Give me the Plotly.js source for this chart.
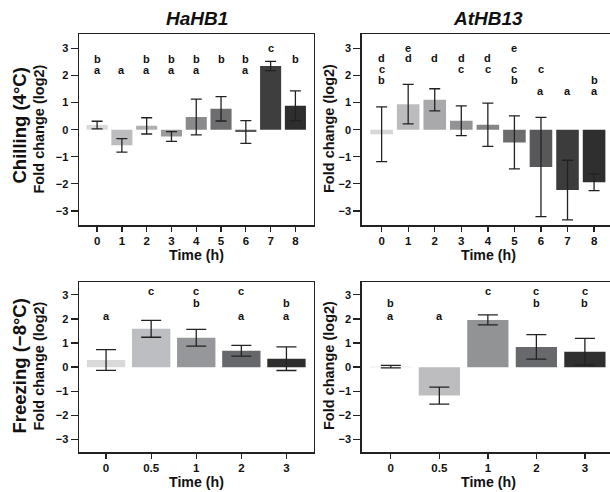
<!DOCTYPE html>
<html><head><meta charset="utf-8">
<script src="https://cdn.plot.ly/plotly-3.0.1.min.js"></script>
<style>html,body{margin:0;padding:0;overflow:hidden;background:#fff}</style>
</head><body><div id="chart" style="width:615px;height:492px"></div>
<script>
// ---- data ----
const chillTimes = ["0","1","2","3","4","5","6","7","8"];
const freezeTimes = ["0","0.5","1","2","3"];
const hahb1ChillMean = [0.17,-0.58,0.14,-0.25,0.47,0.77,-0.09,2.35,0.88];
const hahb1ChillErr  = [0.14,0.25,0.30,0.18,0.66,0.45,0.42,0.17,0.55];
const athb13ChillMean = [-0.17,0.94,1.10,0.33,0.18,-0.47,-1.38,-2.23,-1.94];
const athb13ChillErr  = [1.01,0.73,0.41,0.55,0.80,0.98,1.83,1.10,0.31];
const hahb1FreezeMean = [0.30,1.59,1.22,0.68,0.35];
const hahb1FreezeErr  = [0.43,0.35,0.35,0.22,0.49];
const athb13FreezeMean = [0.02,-1.18,1.96,0.84,0.64];
const athb13FreezeErr  = [0.05,0.35,0.21,0.51,0.55];
const hahb1ChillLetters  = ["ab","a","ab","ab","ab","b","ab","c","b"];
const athb13ChillLetters = ["bcd","de","d","cd","cd","bce","ac","a","ab"];
const hahb1FreezeLetters  = ["a","c","bc","ac","ab"];
const athb13FreezeLetters = ["ab","a","c","bc","bc"];

// ---- styles ----
const chillColorsL = ["#d9d9d9","#bdbdc0","#b0b0b2","#9a9a9c","#8a8a8c","#6e6e70","#59595b","#3e3e3e","#2e2e2e"];
const chillColorsR = ["#d6d6d6","#bcbcbe","#a9a9ab","#939395","#858587","#6c6c6e","#58585a","#3c3c3c","#2f2f2f"];
const freezeColorsL = ["#d9d9d9","#bdbec1","#96979a","#67686b","#2e2e2e"];
const freezeColorsR = ["#d6d6d6","#bdbdc0","#929395","#68696c","#2f2f2f"];
const levelsTL = {a:2.2,b:2.62,c:3.0};
const levelsTR = {a:1.41,b:1.83,c:2.23,d:2.63,e:3.02};
const levelsB  = {a:2.13,b:2.66,c:3.14};

const W = 615, H = 492;
const FONT = "Liberation Sans, Arial, Helvetica, sans-serif";
const INK = "#222";

function barTrace(x, y, err, colors, xa, ya, capw){
  return {type:'bar', x:x, y:y, xaxis:xa, yaxis:ya, width:0.85,
    marker:{color:colors, line:{width:0}},
    error_y:{type:'data', array:err, visible:true, color:INK, thickness:1.3, width:capw},
    hoverinfo:'skip', showlegend:false};
}
const data = [
  barTrace(chillTimes, hahb1ChillMean, hahb1ChillErr, chillColorsL, 'x','y',5.5),
  barTrace(chillTimes, athb13ChillMean, athb13ChillErr, chillColorsR, 'x2','y2',5.5),
  barTrace(freezeTimes, hahb1FreezeMean, hahb1FreezeErr, freezeColorsL, 'x3','y3',10),
  barTrace(freezeTimes, athb13FreezeMean, athb13FreezeErr, freezeColorsR, 'x4','y4',10)
];

function xax(dom, rng){
  return {type:'category', domain:[dom[0]/W, dom[1]/W], range:rng,
    showline:true, mirror:true, linecolor:INK, linewidth:1.5,
    ticks:'outside', ticklen:5, tickwidth:1.3, tickcolor:INK,
    showgrid:false, zeroline:false, fixedrange:true,
    tickfont:{family:FONT, size:11.5, color:'#111', weight:'bold'}};
}
function yax(dom){
  return {domain:[1-dom[1]/H, 1-dom[0]/H], range:[-3.52,3.52],
    tickvals:[-3,-2,-1,0,1,2,3],
    showline:true, mirror:true, linecolor:INK, linewidth:1.5,
    ticks:'outside', ticklen:7, tickwidth:1.3, tickcolor:INK,
    showgrid:false, zeroline:false, fixedrange:true,
    tickfont:{family:FONT, size:11, color:'#111', weight:'bold'}};
}

const annotations = [];
function pa(text, x, y, size, opts){
  annotations.push(Object.assign({text:text, xref:'paper', yref:'paper', x:x/W, y:1-y/H,
    xanchor:'center', yanchor:'middle', showarrow:false,
    font:{family:FONT, size:size, color:'#111', weight:'bold'}}, opts||{}));
}
pa('<i>HaHB1</i>', 196.5, 18, 19);
pa('<i>AtHB13</i>', 488, 18, 19);
pa('Chilling (4°C)', 18.5, 126, 18.5, {textangle:-90});
pa('Freezing (−8°C)', 18.5, 366, 18.5, {textangle:-90});
[[38.5,129],[329,129],[38.5,366],[329,366]].forEach(p=>pa('Fold change (log2)', p[0], p[1], 14.5, {textangle:-90}));
[[196,255],[488,255],[196,481.5],[488,481.5]].forEach(p=>pa('Time (h)', p[0], p[1], 14.2));

// letters placed at category index i of each bar
function letters(lets, levels, xa, ya){
  lets.forEach((s,i)=>{
    s.split('').forEach(ch=>{
      annotations.push({text:ch, x:i, y:levels[ch], xref:xa, yref:ya,
        xanchor:'center', yanchor:'middle', showarrow:false,
        font:{family:FONT, size:11, color:'#111', weight:'bold'}});
    });
  });
}
letters(hahb1ChillLetters, levelsTL, 'x','y');
letters(athb13ChillLetters, levelsTR, 'x2','y2');
letters(hahb1FreezeLetters, levelsB, 'x3','y3');
letters(athb13FreezeLetters, levelsB, 'x4','y4');

const layout = {
  width:W, height:H, margin:{l:0,r:0,t:0,b:0},
  paper_bgcolor:'#fff', plot_bgcolor:'#fff',
  font:{family:FONT, color:'#111'},
  xaxis: xax([79,313.5],[-0.73,8.73]),
  xaxis2: Object.assign(xax([361.7,614],[-0.75,8.75]),{anchor:'y2'}),
  xaxis3: Object.assign(xax([79,313.5],[-0.6,4.6]),{anchor:'y3'}),
  xaxis4: Object.assign(xax([361.7,614],[-0.6,4.6]),{anchor:'y4'}),
  yaxis: yax([34.3,225]),
  yaxis2: Object.assign(yax([34.3,225]),{anchor:'x2'}),
  yaxis3: Object.assign(yax([282.3,452]),{anchor:'x3'}),
  yaxis4: Object.assign(yax([282.3,452]),{anchor:'x4'}),
  annotations: annotations
};
Plotly.newPlot('chart', data, layout, {staticPlot:true, displayModeBar:false});
</script></body></html>
